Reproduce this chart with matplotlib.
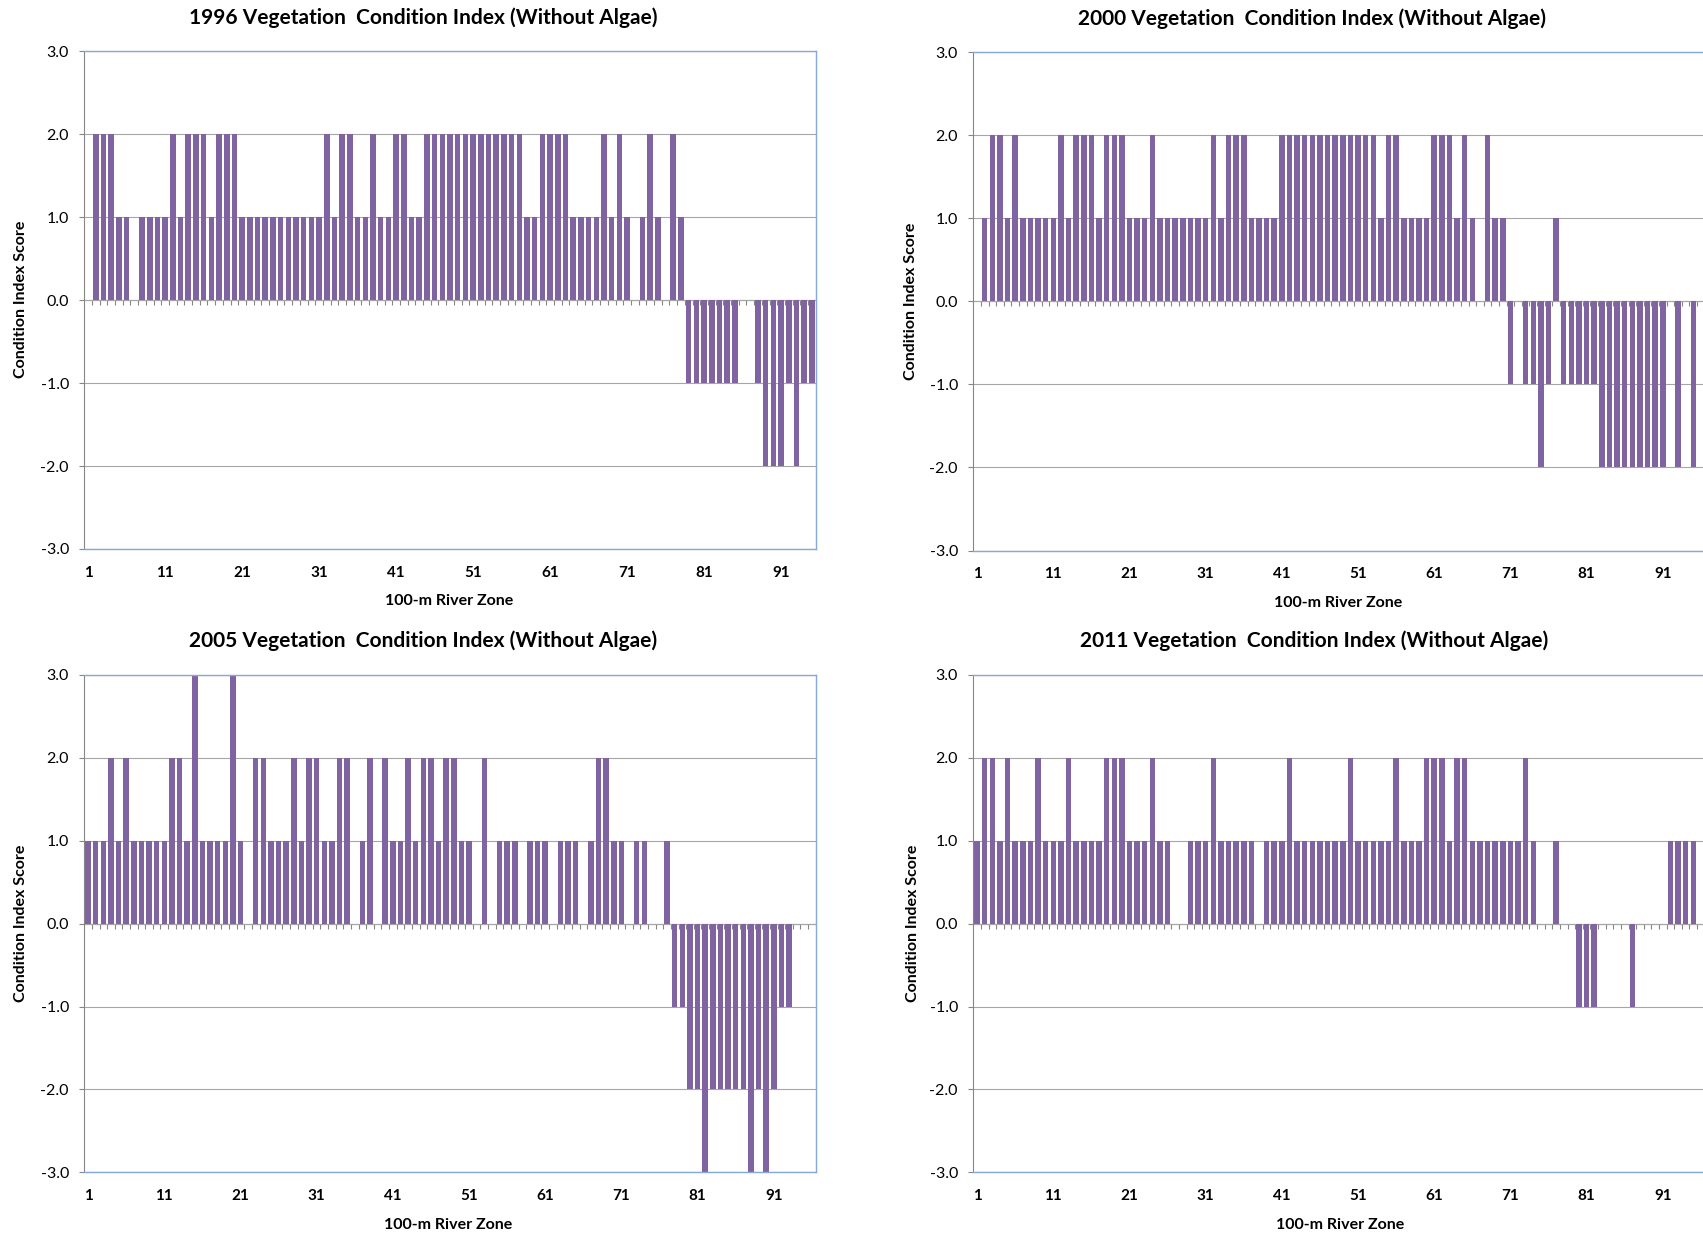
import numpy as np
import matplotlib.pyplot as plt

plt.rcParams['font.family'] = ['Lato', 'DejaVu Sans']
plt.rcParams['axes.unicode_minus'] = False

# condition index score per 100-m river zone
vci_1996 = [0, 2, 2, 2, 1, 1, 0, 1, 1, 1,
            1, 2, 1, 2, 2, 2, 1, 2, 2, 2,
            1, 1, 1, 1, 1, 1, 1, 1, 1, 1,
            1, 2, 1, 2, 2, 1, 1, 2, 1, 1,
            2, 2, 1, 1, 2, 2, 2, 2, 2, 2,
            2, 2, 2, 2, 2, 2, 2, 1, 1, 2,
            2, 2, 2, 1, 1, 1, 1, 2, 1, 2,
            1, 0, 1, 2, 1, 0, 2, 1, -1, -1,
            -1, -1, -1, -1, -1, 0, 0, -1, -2, -2,
            -2, -1, -2, -1, -1]
vci_2000 = [0, 1, 2, 2, 1, 2, 1, 1, 1, 1,
            1, 2, 1, 2, 2, 2, 1, 2, 2, 2,
            1, 1, 1, 2, 1, 1, 1, 1, 1, 1,
            1, 2, 1, 2, 2, 2, 1, 1, 1, 1,
            2, 2, 2, 2, 2, 2, 2, 2, 2, 2,
            2, 2, 2, 1, 2, 2, 1, 1, 1, 1,
            2, 2, 2, 1, 2, 1, 0, 2, 1, 1,
            -1, 0, -1, -1, -2, -1, 1, -1, -1, -1,
            -1, -1, -2, -2, -2, -2, -2, -2, -2, -2,
            -2, 0, -2, 0, -2, 0]
vci_2005 = [1, 1, 1, 2, 1, 2, 1, 1, 1, 1,
            1, 2, 2, 1, 3, 1, 1, 1, 1, 3,
            1, 0, 2, 2, 1, 1, 1, 2, 1, 2,
            2, 1, 1, 2, 2, 0, 1, 2, 0, 2,
            1, 1, 2, 1, 2, 2, 1, 2, 2, 1,
            1, 0, 2, 0, 1, 1, 1, 0, 1, 1,
            1, 0, 1, 1, 1, 0, 1, 2, 2, 1,
            1, 0, 1, 1, 0, 0, 1, -1, -1, -2,
            -2, -3, -2, -2, -2, -2, -2, -3, -2, -3,
            -2, -1, -1, 0, 0, 0]
vci_2011 = [1, 2, 2, 1, 2, 1, 1, 1, 2, 1,
            1, 1, 2, 1, 1, 1, 1, 2, 2, 2,
            1, 1, 1, 2, 1, 1, 0, 0, 1, 1,
            1, 2, 1, 1, 1, 1, 1, 0, 1, 1,
            1, 2, 1, 1, 1, 1, 1, 1, 1, 2,
            1, 1, 1, 1, 1, 2, 1, 1, 1, 2,
            2, 2, 1, 2, 2, 1, 1, 1, 1, 1,
            1, 1, 2, 1, 0, 0, 1, 0, 0, -1,
            -1, -1, 0, 0, 0, 0, -1, 0, 0, 0,
            0, 1, 1, 1, 1, 0]

years = ['1996', '2000', '2005', '2011']
series = [vci_1996, vci_2000, vci_2005, vci_2011]
zone_ticks = [1, 11, 21, 31, 41, 51, 61, 71, 81, 91]
score_ticks = [-3, -2, -1, 0, 1, 2, 3]

BAR = '#8064A2'
GRID = '#A6A6A6'
AXIS = '#868686'
FRAME = '#86A8DA'

W, H = 1703, 1236
fig = plt.figure(figsize=(W / 100, H / 100), dpi=100)

# plot areas in pixels: left, top, right, bottom
boxes = [(84.3, 51, 815.7, 549), (973.3, 52, 1704.7, 550.5),
         (84.3, 675, 815.7, 1172.3), (973.3, 675, 1704.7, 1172.3)]
title_pos = [(423.5, 17.4), (1312, 18.5), (423.5, 640.7), (1314, 640.7)]
ylab_pos = [(21, 299), (911, 301), (21, 923), (913, 923)]
xlab_pos = [(449, 600.6), (1338, 602.7), (448.5, 1225), (1340, 1225)]


def fx(x):
    return x / W


def fy(y):
    return 1 - y / H


for i in range(4):
    scores = series[i]
    n = len(scores)
    l, t, r, b = boxes[i]
    ax = fig.add_axes([fx(l), fy(b), (r - l) / W, (b - t) / H])
    zones = np.arange(1, n + 1)
    ax.bar(zones, scores, width=0.72, color=BAR, zorder=2)

    ax.set_xlim(0.5, n + 0.5)
    ax.set_ylim(-3, 3)
    ax.set_yticks(score_ticks)
    ax.set_yticklabels(['%.1f' % v for v in score_ticks])
    ax.set_xticks(zone_ticks)
    ax.set_xticklabels([str(z) for z in zone_ticks], fontweight='bold')
    ax.tick_params(axis='x', length=0, pad=12, labelsize=11)
    ax.tick_params(axis='y', length=3.6, width=0.8, color=AXIS, pad=7.5,
                   labelsize=11.5)
    ax.yaxis.grid(True, color=GRID, lw=0.8)
    ax.set_axisbelow(True)

    ax.spines['left'].set_color(AXIS)
    for s in ['top', 'right', 'bottom']:
        ax.spines[s].set_color(FRAME)
        ax.spines[s].set_linewidth(1.0)

    # category axis along zero with ticks between zones
    zero = ax.secondary_xaxis(0, transform=ax.transData)
    zero.set_xticks(np.arange(1.5, n, 1))
    zero.tick_params(length=3.6, width=0.8, color=AXIS, labelbottom=False,
                     labeltop=False)
    for s in zero.spines.values():
        s.set_color(AXIS)

    fig.text(fx(title_pos[i][0]), fy(title_pos[i][1]),
             years[i] + ' Vegetation  Condition Index (Without Algae)',
             ha='center', va='center', fontsize=15, fontweight='bold')
    fig.text(fx(ylab_pos[i][0]), fy(ylab_pos[i][1]), 'Condition Index Score',
             ha='center', va='center', rotation=90, fontsize=11.5,
             fontweight='bold')
    fig.text(fx(xlab_pos[i][0]), fy(xlab_pos[i][1]), '100-m River Zone',
             ha='center', va='center', fontsize=11.5, fontweight='bold')

fig.savefig('out.png', dpi=100)
